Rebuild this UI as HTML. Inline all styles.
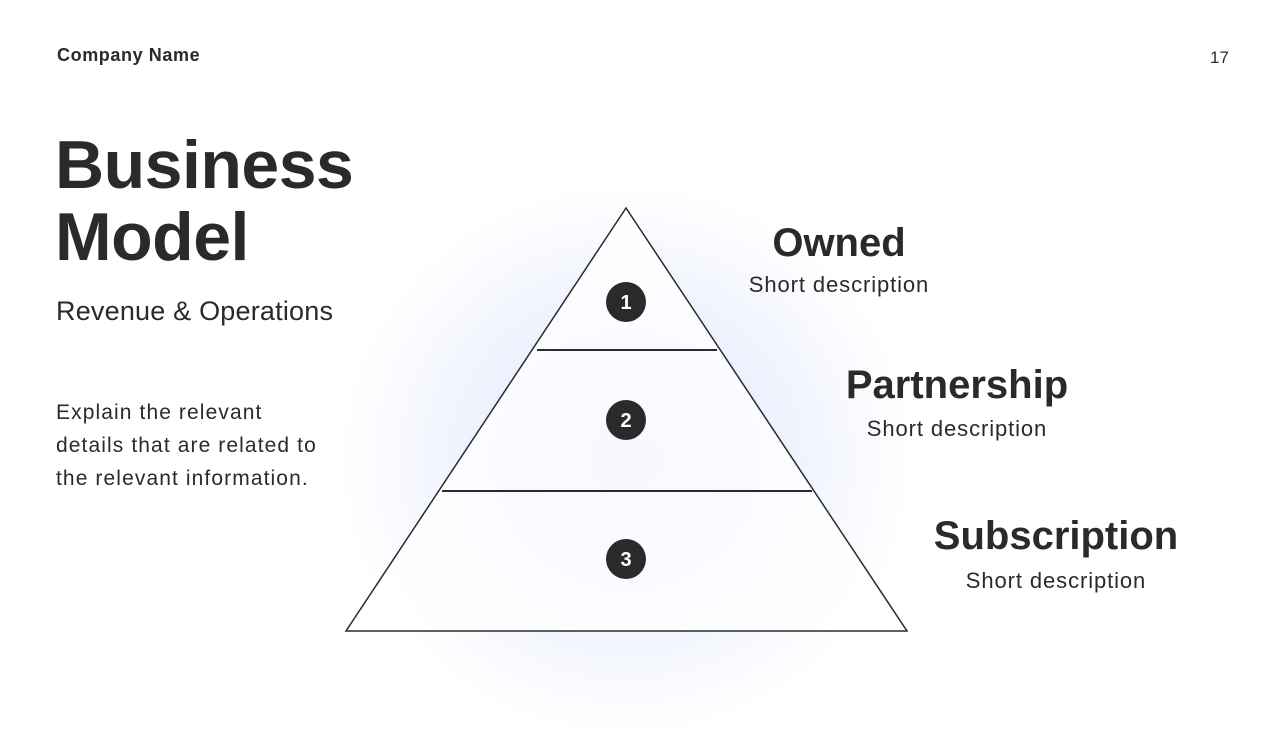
<!DOCTYPE html>
<html><head><meta charset="utf-8"><style>
body{margin:0;width:1280px;height:720px;background:#fff;position:relative;overflow:hidden;font-family:"Liberation Sans",sans-serif;color:#2a2a2a}
.a{position:absolute;white-space:nowrap}
.c{transform:translateX(-50%);text-align:center}
.glow{position:absolute;left:336px;top:180px;width:580px;height:560px;border-radius:50%;background:radial-gradient(ellipse at center,rgba(200,212,250,0.6) 0%,rgba(220,228,252,0.45) 40%,rgba(255,255,255,0) 70%)}
.d{font-size:22px;letter-spacing:0.9px}
</style></head><body>
<div class="glow"></div>
<div class="a" style="left:57px;top:45px;font-size:18px;font-weight:bold;letter-spacing:0.6px">Company Name</div>
<div class="a" style="left:1210px;top:48px;font-size:17px">17</div>
<div class="a" style="left:55px;top:129px;font-size:68px;font-weight:bold;line-height:72px;letter-spacing:-0.5px">Business<br>Model</div>
<div class="a" style="left:56px;top:296px;font-size:27px;letter-spacing:0.2px">Revenue &amp; Operations</div>
<div class="a" style="left:56px;top:396px;font-size:21px;line-height:33px;letter-spacing:1.1px">Explain the relevant<br>details that are related to<br>the relevant information.</div>
<svg class="a" style="left:0;top:0" width="1280" height="720">
<polygon points="626,208 346,631 907,631" fill="rgba(255,255,255,0.75)" stroke="#2a2a2a" stroke-width="1.5"/>
<line x1="537" y1="350" x2="717" y2="350" stroke="#2a2a2a" stroke-width="2"/>
<line x1="442" y1="491" x2="812" y2="491" stroke="#2a2a2a" stroke-width="2"/>
<g font-family="Liberation Sans" font-weight="bold" font-size="20" fill="#fff" text-anchor="middle">
<circle cx="626" cy="302" r="20" fill="#2a2a2a"/><text x="626" y="309">1</text>
<circle cx="626" cy="420" r="20" fill="#2a2a2a"/><text x="626" y="427">2</text>
<circle cx="626" cy="559" r="20" fill="#2a2a2a"/><text x="626" y="566">3</text>
</g></svg>
<div class="a c" style="left:839px;top:221px;font-size:40px;font-weight:bold">Owned</div>
<div class="a c d" style="left:839px;top:272px">Short description</div>
<div class="a c" style="left:957px;top:363px;font-size:40px;font-weight:bold">Partnership</div>
<div class="a c d" style="left:957px;top:416px">Short description</div>
<div class="a c" style="left:1056px;top:514px;font-size:40px;font-weight:bold">Subscription</div>
<div class="a c d" style="left:1056px;top:568px">Short description</div>
</body></html>
